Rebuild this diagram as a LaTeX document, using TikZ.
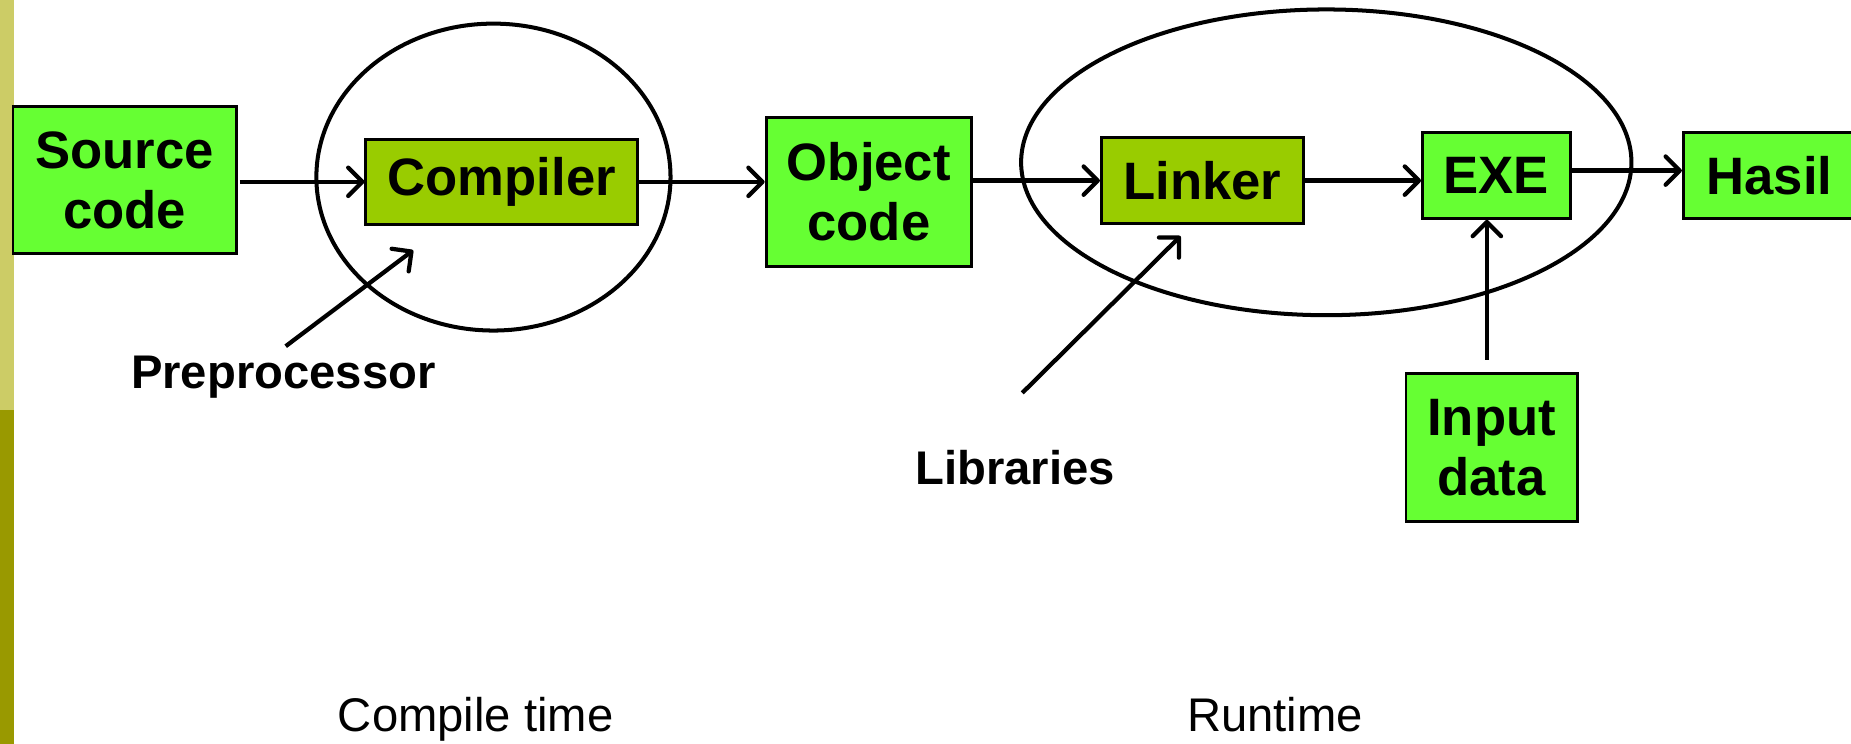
\documentclass[tikz,border=0pt]{standalone}
\usepackage{fontspec}
\setmainfont{Liberation Sans}
\usetikzlibrary{arrows.meta}
\definecolor{boxgreen}{HTML}{66FF33}
\definecolor{boxolive}{HTML}{99CC00}
\definecolor{barlight}{HTML}{CCCC66}
\definecolor{bardark}{HTML}{999900}
\begin{document}
\begin{tikzpicture}[x=1pt, y=-1pt, >={Straight Barb[length=12pt,width=24pt,round]},
	box/.style={draw, line width=2.5pt, fill=boxgreen, align=center, inner sep=0pt,
		font=\fontsize{44.6}{51}\selectfont\bfseries},
	tool/.style={box, fill=boxolive},
	lbl/.style={anchor=base, inner sep=8pt, font=\fontsize{40}{46}\selectfont\bfseries},
	phase/.style={anchor=base, font=\fontsize{40}{46}\selectfont},
	conn/.style={->, line width=3.6pt}]
	\useasboundingbox (0,0) rectangle (1568,630);
	\clip (0,0) rectangle (1568,630);
	
	% side bar
	\fill[barlight] (0,0) rectangle (12,347);
	\fill[bardark] (0,347) rectangle (12,630);
	
	% compile time / runtime groups
	\draw[line width=3.4pt] (418,150) ellipse [x radius=150, y radius=130];
	\draw[line width=3.4pt] (1123.5,137.5) ellipse [x radius=258.5, y radius=129.5];
	
	\node[box, minimum width=189pt, minimum height=125pt] (src) at (105.5,152.5) {Source\\code};
	\node[tool, minimum width=230pt, minimum height=72pt] (comp) at (425,154) {Compiler};
	\node[box, minimum width=174pt, minimum height=126pt] (obj) at (736,162.5) {Object\\code};
	\node[tool, minimum width=171pt, minimum height=73pt] (link) at (1018.5,153) {Linker};
	\node[box, minimum width=125pt, minimum height=73pt] (exe) at (1267.5,148.5) {EXE};
	\node[box, minimum width=146pt, minimum height=73pt] (hasil) at (1499,148.5) {Hasil};
	\node[box, minimum width=145pt, minimum height=126pt] (input) at (1263.5,379) {Input\\data};
	
	\node[lbl] (pre) at (240,329) {Preprocessor};
	\node[lbl] (lib) at (860,410) {Libraries};
	\node[phase] (ctime) at (403,620) {Compile time};
	\node[phase] (rtime) at (1080,620) {Runtime};
	
	\coordinate (pretip) at (350,212);
	\coordinate (libtip) at (1000,200);
	
	\draw[conn] ([xshift=2pt]src.east |- comp.west) -- (comp.west);
	\draw[conn] (comp.east) -- (comp.east -| obj.west);
	\draw[conn] (obj.east |- link.west) -- (link.west);
	\draw[conn] (link.east) -- (link.east -| exe.west);
	\draw[conn] ([yshift=4pt]exe.east) -- ([yshift=4pt]hasil.west);
	\draw[conn] ([xshift=-4pt,yshift=10pt]input.north) -- ([xshift=-4pt]input.north |- exe.south);
	\draw[conn] ([xshift=2pt]pre.north) -- (pretip);
	\draw[conn] ([xshift=6pt,yshift=40pt]lib.north) -- (libtip);
\end{tikzpicture}
\end{document}
